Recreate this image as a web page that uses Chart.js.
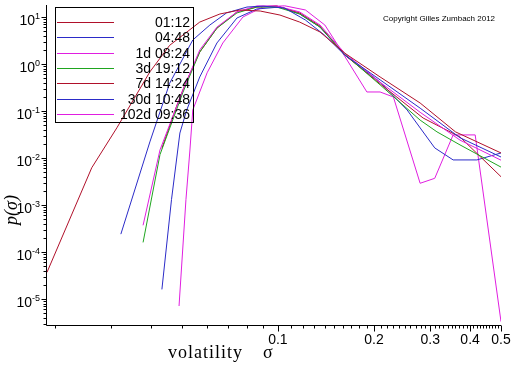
<!DOCTYPE html>
<html>
<head>
<meta charset="utf-8">
<script src="https://cdn.jsdelivr.net/npm/chart.js@4"></script>
<style>
body{margin:0;background:#fff}
canvas{display:block}
</style>
</head>
<body>
<canvas id="volChart" width="512" height="366" style="width:512px;height:366px"></canvas>
<script>

// DATA

const seriesNames = ['01:12','04:48','1d 08:24','3d 19:12','7d 14:24','30d 10:48','102d 09:36']
const seriesColors = ['#b0102a','#2b2bc8','#e01ee0','#1fa51f','#b0102a','#2b2bc8','#e01ee0']

const sig0112 = [0.0189,0.0261,0.0313,0.0397,0.0458,0.0569,0.0658,0.076,0.088,0.1015,0.117,0.1355,0.162,0.209,0.279,0.36,0.5]
const p0112   = [3.7e-5,6.2e-3,0.044,0.68,2.5,7.8,11.6,14.1,13.4,11,7.8,4.8,1.7,0.53,0.148,0.036,0.0128]

const sig0448 = [0.0322,0.0397,0.0458,0.0541,0.0612,0.069,0.08,0.09,0.105,0.122,0.14,0.162,0.209,0.279,0.372,0.5]
const p0448   = [2.4e-4,0.022,0.39,3.24,6.75,12.2,16.3,17,15.5,8.6,4.1,1.55,0.46,0.115,0.027,0.0105]

const sig1d   = [0.0378,0.0427,0.0504,0.0569,0.0644,0.0744,0.0859,0.099,0.117,0.1355,0.162,0.209,0.279,0.372,0.5]
const p1d     = [3.7e-4,0.0148,0.28,1.99,6.1,12.8,17.2,17.2,12.8,6.75,1.7,0.41,0.094,0.024,0.009]

const sig3d   = [0.0378,0.0427,0.0504,0.0569,0.0644,0.0744,0.0859,0.099,0.117,0.1355,0.162,0.209,0.279,0.315,0.372,0.5]
const p3d     = [1.6e-4,0.0118,0.25,1.8,5.8,12.2,16.3,16.3,11.6,6.1,1.6,0.36,0.064,0.036,0.019,0.0064]

const sig7d   = [0.0433,0.048,0.0511,0.0569,0.0644,0.0744,0.0859,0.099,0.117,0.1355,0.162,0.209,0.285,0.372,0.5]
const p7d     = [0.016,0.12,0.36,1.8,5.8,12.8,16.3,17.2,12.2,6.4,1.55,0.38,0.071,0.028,0.004]

const sig30d  = [0.0433,0.0464,0.0493,0.0518,0.0569,0.0644,0.0744,0.0859,0.1015,0.117,0.1355,0.162,0.209,0.254,0.31,0.354,0.42,0.5]
const p30d    = [1.6e-5,0.0013,0.034,0.105,0.53,2.8,9.5,14.8,16.3,11.6,6.1,1.55,0.41,0.105,0.0164,0.0091,0.0091,0.0128]

const sig102d = [0.049,0.0515,0.053,0.0541,0.06,0.0672,0.0777,0.0897,0.105,0.122,0.1403,0.156,0.19,0.209,0.23,0.279,0.31,0.354,0.415,0.5]
const p102d   = [7.1e-6,0.0013,0.0148,0.105,0.65,2.8,10,16.3,17.3,14.1,6.75,2.2,0.254,0.254,0.199,0.0029,0.0037,0.031,0.031,3.3e-6]

const sigmas = [sig0112,sig0448,sig1d,sig3d,sig7d,sig30d,sig102d]
const densities = [p0112,p0448,p1d,p3d,p7d,p30d,p102d]

// tick labels
const yDecades = [1,0,-1,-2,-3,-4,-5]
const xMajor = [0.1,0.2,0.3,0.4,0.5]
const xTickLabels = ['0.1','0.2','0.3','0.4','0.5']

const xMin = 0.0189, xMax = 0.5
const yMin = 2.8e-6, yMax = 18


// DATASETS

let datasets = []

for(let i=0;i<seriesNames.length;i++){

let pts = []
for(let j=0;j<sigmas[i].length;j++){
pts.push({x:sigmas[i][j], y:densities[i][j]})
}

datasets.push({
label: seriesNames[i],
data: pts,
borderColor: seriesColors[i],
borderWidth: 1,
pointRadius: 0,
tension: 0,
fill: false
})

}


// AXES, TICKS, LEGEND AND TEXT (maple look)

const maplePlugin = {

id:'maple',

afterDraw(chart){

const ctx = chart.ctx
const a = chart.chartArea
const xs = chart.scales.x
const ys = chart.scales.y

ctx.save()
ctx.strokeStyle = '#000'
ctx.fillStyle = '#000'
ctx.lineWidth = 1

// axis lines
let ax = Math.round(a.left) - 0.5
let ay = Math.round(a.bottom) + 0.5
ctx.beginPath()
ctx.moveTo(ax, a.top)
ctx.lineTo(ax, ay)
ctx.lineTo(a.right, ay)
ctx.stroke()

// y ticks
ctx.beginPath()
for(let e=-6;e<=1;e++){
for(let k=1;k<=9;k++){
let v = k*Math.pow(10,e)
if(v<yMin || v>yMax) continue
let py = Math.round(ys.getPixelForValue(v)) + 0.5
let len = (k==1) ? 5 : 3
ctx.moveTo(ax-len, py)
ctx.lineTo(ax, py)
}
}
ctx.stroke()

// x ticks
ctx.beginPath()
for(let n=2;n<=50;n++){
let v = n/100
if(v<xMin || v>xMax) continue
let px = Math.round(xs.getPixelForValue(v)) + 0.5
let major = (n%10==0 && n>=10)
let len = major ? 6 : 3
ctx.moveTo(px, ay)
ctx.lineTo(px, ay+len)
}
ctx.stroke()

// y labels 10^e
for(let i=0;i<yDecades.length;i++){
let e = yDecades[i]
let py = ys.getPixelForValue(Math.pow(10,e))
let sup = String(e)
ctx.font = '9px "Liberation Sans", Arial, sans-serif'
let wSup = ctx.measureText(sup).width
ctx.font = '14px "Liberation Sans", Arial, sans-serif'
let wTen = ctx.measureText('10').width
let right = 40
ctx.textAlign = 'left'
ctx.textBaseline = 'alphabetic'
ctx.fillText('10', right - wSup - wTen, py + 8)
ctx.font = '9px "Liberation Sans", Arial, sans-serif'
ctx.fillText(sup, right - wSup, py + 2)
}

// x labels
ctx.font = '14px "Liberation Sans", Arial, sans-serif'
ctx.textAlign = 'center'
ctx.textBaseline = 'alphabetic'
for(let i=0;i<xMajor.length;i++){
let px = xs.getPixelForValue(xMajor[i])
ctx.fillText(xTickLabels[i], px, ay + 18)
}

// axis titles
ctx.font = '18px "Liberation Serif", "Times New Roman", serif'
ctx.textAlign = 'left'
ctx.letterSpacing = '1px'
ctx.fillText('volatility', 168, 358)
ctx.fillText('σ', 263, 358)
ctx.letterSpacing = '0px'

ctx.save()
ctx.translate(17, 210)
ctx.rotate(-Math.PI/2)
ctx.font = 'italic 18px "Liberation Serif", "Times New Roman", serif'
ctx.textAlign = 'center'
ctx.fillText('p(σ)', 0, 0)
ctx.restore()

// copyright
ctx.font = '8px "Liberation Sans", Arial, sans-serif'
ctx.textAlign = 'left'
ctx.fillText('Copyright Gilles Zumbach 2012', 383, 21)

// legend box
ctx.strokeRect(55.5, 7.5, 138, 115)
ctx.font = '14px "Liberation Sans", Arial, sans-serif'
ctx.textAlign = 'right'
ctx.textBaseline = 'middle'
for(let i=0;i<chart.data.datasets.length;i++){
let ds = chart.data.datasets[i]
let ry = Math.round(22 + i*15.3) + 0.5
ctx.strokeStyle = ds.borderColor
ctx.beginPath()
ctx.moveTo(57, ry)
ctx.lineTo(114, ry)
ctx.stroke()
ctx.fillStyle = '#000'
ctx.fillText(ds.label, 190, ry + 1)
}

ctx.restore()

}

}


// CHART

const ctx = document.getElementById('volChart')

new Chart(ctx, {

type: 'line',

data: { datasets: datasets },

options: {

responsive:false,
animation:false,
layout:{ padding:{ top:5, right:11, left:0, bottom:0 } },

plugins:{
legend:{display:false},
tooltip:{enabled:false}
},

scales:{
x:{
type:'logarithmic',
min:xMin,
max:xMax,
ticks:{display:false},
grid:{display:false, drawTicks:false},
border:{display:false},
afterFit(s){ s.height = 41 }
},
y:{
type:'logarithmic',
min:yMin,
max:yMax,
ticks:{display:false},
grid:{display:false, drawTicks:false},
border:{display:false},
afterFit(s){ s.width = 47 }
}
}

},

plugins:[maplePlugin]

})

</script>
</body>
</html>
